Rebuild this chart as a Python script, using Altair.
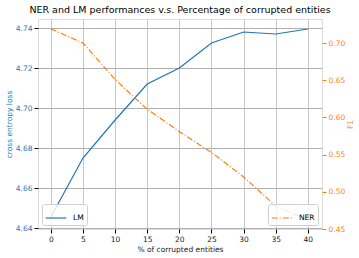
import altair as alt
import pandas as pd

pct = [0, 5, 10, 15, 20, 25, 30, 35, 40]
lm_loss = [4.6455, 4.675, 4.694, 4.712, 4.720, 4.7325, 4.738, 4.737, 4.7395]
ner_f1 = [0.719, 0.700, 0.651, 0.611, 0.581, 0.553, 0.520, 0.481, 0.462]

df_lm = pd.DataFrame({"pct": pct, "value": lm_loss, "series": ["LM"] * len(pct)})
df_ner = pd.DataFrame({"pct": pct, "value": ner_f1, "series": ["NER"] * len(pct)})

BLUE = "#1f77b4"
ORANGE = "#ff7f0e"
FONT = "DejaVu Sans"


def legend(orient):
    return alt.Legend(title=None, orient=orient, offset=4,
                      symbolType="stroke", symbolSize=420,
                      symbolStrokeWidth=1.2, labelFontSize=7.5,
                      labelFont=FONT, padding=3, labelOffset=6,
                      strokeColor="#d0d0d0", fillColor="rgba(255,255,255,0.8)",
                      cornerRadius=2)


x_enc = alt.X(
    "pct:Q",
    title="% of corrupted entities",
    scale=alt.Scale(domain=[-2, 42.2], nice=False, zero=False),
    axis=alt.Axis(values=pct, grid=True, gridColor="#c8c8c8", gridWidth=1,
                  tickColor="#000000", tickSize=4, labelFontSize=7.5,
                  titleFontSize=7.5, labelColor="#222222", titleColor="#222222",
                  labelPadding=2, titlePadding=3, domain=False, labelFont=FONT,
                  titleFont=FONT, titleFontWeight="normal"),
)

lm = alt.Chart(df_lm).mark_line(strokeWidth=1.2, clip=True).encode(
    x=x_enc,
    y=alt.Y("value:Q", title="cross entropy loss",
            scale=alt.Scale(domain=[4.6395, 4.7445], nice=False, zero=False),
            axis=alt.Axis(orient="left", values=[4.64, 4.66, 4.68, 4.70, 4.72, 4.74],
                          format=".2f", grid=True, gridColor="#b0b0b0", gridWidth=1,
                          tickColor="#000000", tickSize=4, labelColor=BLUE,
                          titleColor=BLUE, labelFontSize=7.5, titleFontSize=7.5,
                          labelPadding=2, titlePadding=2, domain=False,
                          labelFont=FONT, titleFont=FONT, titleFontWeight="normal")),
    color=alt.Color("series:N", scale=alt.Scale(domain=["LM"], range=[BLUE]),
                    legend=legend("bottom-left")),
)

ner = alt.Chart(df_ner).mark_line(strokeWidth=1.2, clip=True).encode(
    x=x_enc,
    y=alt.Y("value:Q", title="F1",
            scale=alt.Scale(domain=[0.45, 0.7323], nice=False, zero=False),
            axis=alt.Axis(orient="right", values=[0.45, 0.50, 0.55, 0.60, 0.65, 0.70],
                          format=".2f", grid=False, tickColor=ORANGE, tickSize=4,
                          labelColor=ORANGE, titleColor=ORANGE, labelFontSize=7.5,
                          titleFontSize=7.5, labelPadding=2, titlePadding=10,
                          titleAngle=270, domain=False, labelFont=FONT,
                          titleFont=FONT, titleFontWeight="normal")),
    color=alt.Color("series:N", scale=alt.Scale(domain=["NER"], range=[ORANGE]),
                    legend=legend("bottom-right")),
    strokeDash=alt.StrokeDash("series:N",
                              scale=alt.Scale(domain=["NER"], range=[[6, 2, 1, 2]]),
                              legend=legend("bottom-right")),
)

chart = alt.layer(lm, ner).resolve_scale(
    y="independent", color="independent", strokeDash="independent"
).properties(
    width=284,
    height=210,
    title=alt.TitleParams("NER and LM performances v.s. Percentage of corrupted entities",
                          fontSize=9.5, fontWeight="normal", font=FONT, color="#000000",
                          anchor="middle", offset=5),
    autosize=alt.AutoSizeParams(type="none"),
    padding={"left": 38, "top": 19, "right": 37, "bottom": 29},
).configure_view(
    stroke="#000000", strokeWidth=1.2
).configure(background="white")

chart.save("out.html", embed_options={"renderer": "svg", "actions": False})
